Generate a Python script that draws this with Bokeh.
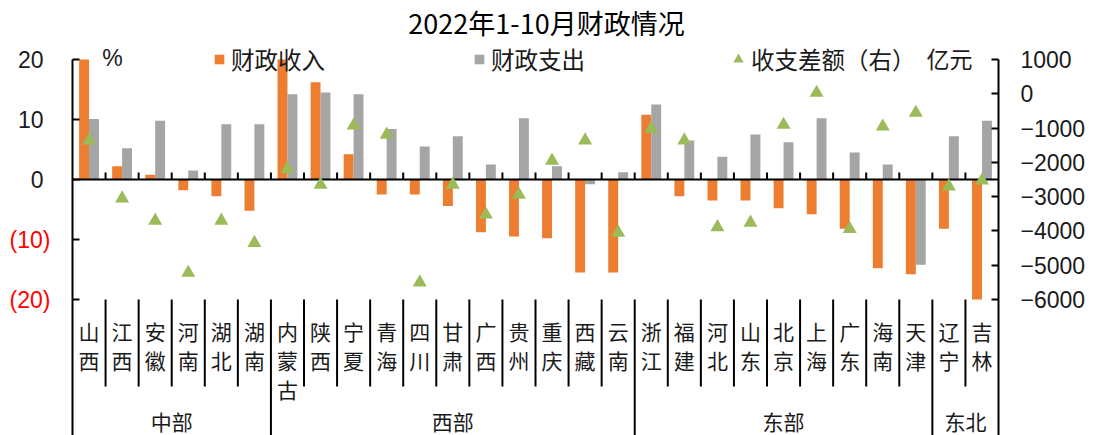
import numpy as np
from bokeh.plotting import figure
from bokeh.models import (Range1d, LinearAxis, FixedTicker, Label, Legend,
                          LegendItem, ColumnDataSource)
from bokeh.core.properties import value
from bokeh.embed import file_html
from bokeh.resources import INLINE

# ---------------- data ----------------
provinces = ["山西", "江西", "安徽", "河南", "湖北", "湖南",
             "内蒙古", "陕西", "宁夏", "青海", "四川", "甘肃", "广西", "贵州", "重庆", "西藏", "云南",
             "浙江", "福建", "河北", "山东", "北京", "上海", "广东", "海南", "天津",
             "辽宁", "吉林"]
regions = ["中部", "西部", "东部", "东北"]
region_sizes = [6, 11, 9, 2]
revenue = [20.0, 2.2, 0.8, -1.8, -2.8, -5.2,
           20.0, 16.2, 4.2, -2.5, -2.5, -4.4, -8.8, -9.5, -9.8, -15.5, -15.5,
           10.8, -2.8, -3.5, -3.5, -4.8, -5.8, -8.2, -14.8, -15.8,
           -8.2, -20.0]
expenditure = [10.1, 5.2, 9.8, 1.5, 9.2, 9.2,
               14.2, 14.5, 14.2, 8.4, 5.5, 7.2, 2.5, 10.2, 2.2, -0.8, 1.2,
               12.5, 6.5, 3.8, 7.5, 6.2, 10.2, 4.5, 2.5, -14.2,
               7.2, 9.8]
balance = [-1360, -3050, -3700, -5220, -3700, -4350,
           -2190, -2650, -925, -1190, -5500, -2650, -3520, -2940, -1950, -1360, -4050,
           -1020, -1360, -3890, -3760, -905, 30, -3940, -955, -555,
           -2700, -2530]
left_ticks = [-20, -10, 0, 10, 20]
left_tick_labels = ["(20)", "(10)", "0", "10", "20"]
right_ticks = [-6000, -5000, -4000, -3000, -2000, -1000, 0, 1000]
right_tick_labels = ["−6000", "−5000", "−4000", "−3000", "−2000", "−1000", "0", "1000"]

ORANGE = "#ED7D31"
GRAY = "#A5A5A5"
GREEN = "#9BBB59"
RED = "#FF0000"
TXT = "#1a1a1a"
CJK = "Noto Sans CJK SC"
LAT = "Liberation Sans"

# ---------------- layout (canvas px) ----------------
W, H = 1093, 435
AX0, AX1 = 72, 998          # left / right axis x
Y0PX = 179                  # y of value 0 (left axis)
PX_PER_UNIT = 6.0           # left axis px per %
n = len(provinces)
PX_PER_CAT = (AX1 - AX0) / n
R_PX = 240.0 / 7000.0       # right axis px per unit
R_TOP_PX = 59               # y of 1000 on right axis

def dx(px):
    return (px - AX0) / PX_PER_CAT

def dy(py):
    return (Y0PX - py) / PX_PER_UNIT

def dr(py):
    return 1000 - (py - R_TOP_PX) / R_PX

p = figure(width=W, height=H, output_backend="svg", toolbar_location=None,
           x_range=Range1d(dx(0), dx(W)), y_range=Range1d(dy(H), dy(0)),
           x_axis_location=None, y_axis_location=None,
           min_border_left=0, min_border_right=0,
           min_border_top=0, min_border_bottom=0)
p.extra_y_ranges = {"right": Range1d(dr(H), dr(0))}
p.outline_line_color = None
p.grid.visible = False
p.background_fill_color = "white"
p.border_fill_color = "white"

centers = np.arange(n) + 0.5
bw = 0.3
src = ColumnDataSource(dict(xc=centers, xr=centers - bw / 2, xe=centers + bw / 2,
                            rev=revenue, exp=expenditure, bal=balance))

r_rev = p.vbar(x="xr", top="rev", bottom=0, width=bw, source=src,
               fill_color=ORANGE, line_color=None)
r_exp = p.vbar(x="xe", top="exp", bottom=0, width=bw, source=src,
               fill_color=GRAY, line_color=None)

# zero line with upward ticks at category boundaries
p.segment(x0=[0], y0=[0], x1=[n], y1=[0], line_color="black", line_width=2)
bounds_all = np.arange(1, n)
p.segment(x0=bounds_all, y0=0, x1=bounds_all, y1=7 / PX_PER_UNIT,
          line_color="black", line_width=2)

r_bal = p.scatter(x="xc", y="bal", source=src, y_range_name="right",
                  marker="triangle", size=14, fill_color=GREEN, line_color=None)

# axes
la = LinearAxis(ticker=FixedTicker(ticks=left_ticks), bounds=(-20, 20), fixed_location=0,
                major_tick_in=7, major_tick_out=0, minor_tick_in=0, minor_tick_out=0,
                major_label_standoff=29,
                major_label_overrides={t: (lab if t >= 0 else "") for t, lab in zip(left_ticks, left_tick_labels)},
                axis_line_width=2, major_tick_line_width=2,
                major_label_text_font=LAT, major_label_text_font_size="23px",
                major_label_text_color=TXT)
p.add_layout(la, "left")
ra = LinearAxis(y_range_name="right", ticker=FixedTicker(ticks=right_ticks), bounds=(-6000, 1000),
                fixed_location=n,
                major_tick_in=7, major_tick_out=0, minor_tick_in=0, minor_tick_out=0,
                major_label_standoff=22,
                major_label_overrides=dict(zip(right_ticks, right_tick_labels)),
                axis_line_width=2, major_tick_line_width=2,
                major_label_text_font=LAT, major_label_text_font_size="23px",
                major_label_text_color=TXT)
p.add_layout(ra, "right")

# red negative tick labels on the left
for t, lab in zip(left_ticks, left_tick_labels):
    if t < 0:
        p.add_layout(Label(x=dx(50), y=t, text=lab, text_align="right", text_baseline="middle",
                           text_font=LAT, text_font_size="23px", text_color=RED))

# category axis: separators and labels
edges = np.concatenate([[0], np.cumsum(region_sizes)])
inner = [b for b in range(n + 1) if b not in set(edges.tolist())]
p.segment(x0=inner, y0=-20, x1=inner, y1=dy(386), line_color="black", line_width=2)
p.segment(x0=edges, y0=-20, x1=edges, y1=dy(H), line_color="black", line_width=2)

lab_src = ColumnDataSource(dict(x=centers, text=["\n".join(s) for s in provinces]))
p.text(x="x", y=dy(315), text="text", source=lab_src, text_align="center",
       text_baseline="top", text_font=value(CJK), text_font_size="21px",
       text_line_height=0.97, text_color=TXT)
grp_src = ColumnDataSource(dict(x=(edges[:-1] + edges[1:]) / 2, text=regions))
p.text(x="x", y=dy(420), text="text", source=grp_src, text_align="center",
       text_baseline="middle", text_font=value(CJK), text_font_size="21px", text_color=TXT)

# title and unit labels
p.add_layout(Label(x=dx(546), y=dy(22), text="2022年1-10月财政情况", text_align="center",
                   text_baseline="middle", text_font=CJK, text_font_size="27px", text_color="black"))
p.add_layout(Label(x=dx(112), y=dy(57), text="%", text_align="center", text_baseline="middle",
                   text_font=LAT, text_font_size="23px", text_color=TXT))
p.add_layout(Label(x=dx(926), y=dy(57), text="亿元", text_align="left", text_baseline="middle",
                   text_font=CJK, text_font_size="23px", text_color=TXT))

# legends
leg1 = Legend(items=[LegendItem(label="财政收入", renderers=[r_rev]),
                     LegendItem(label="财政支出", renderers=[r_exp])],
              orientation="horizontal", location=(213, H - 76),
              glyph_width=12, glyph_height=12, label_standoff=6, label_width=242,
              spacing=0, padding=0, margin=0,
              label_text_font=CJK, label_text_font_size="23.5px", label_text_color=TXT,
              background_fill_alpha=0, border_line_alpha=0)
leg2 = Legend(items=[LegendItem(label="收支差额（右）", renderers=[r_bal])],
              orientation="horizontal", location=(725, H - 76),
              glyph_width=26, glyph_height=26, label_standoff=0,
              spacing=0, padding=0, margin=0,
              label_text_font=CJK, label_text_font_size="23.5px", label_text_color=TXT,
              background_fill_alpha=0, border_line_alpha=0)
p.add_layout(leg1, "center")
p.add_layout(leg2, "center")

open("out.html", "w").write(file_html(p, INLINE))
